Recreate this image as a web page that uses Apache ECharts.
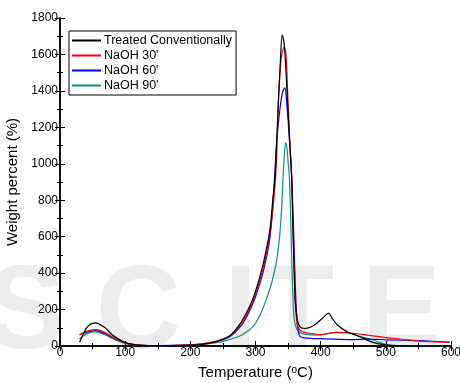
<!DOCTYPE html>
<html>
<head>
<meta charset="utf-8">
<script src="https://cdn.jsdelivr.net/npm/echarts@6/dist/echarts.min.js"></script>
<style>
  html, body { margin: 0; padding: 0; background: #fff; }
  #chart { width: 460px; height: 383px; }
</style>
</head>
<body>
<div id="chart"></div>
<script>
// series names
const seriesNames = ['Treated Conventionally', "NaOH 30'", "NaOH 60'", "NaOH 90'"];
const seriesColors = ['#000000', '#ff0000', '#0000ff', '#0a8f86'];

// Treated Conventionally
const tempBlack = [30, 35, 40, 45, 50, 55, 60, 70, 80, 90, 100, 110, 120, 140, 160, 180, 200, 220, 240, 260, 276, 290, 300, 312, 322, 327, 330, 334, 338, 341, 344, 348, 352, 355.5, 357, 359, 361, 364, 368, 375, 385, 395, 405, 412, 418, 425, 440, 460, 480, 500, 520, 560, 600];
const wBlack = [20, 60, 95, 115, 124, 127, 120, 98, 62, 38, 19, 10, 5, 2, 1, 1, 4, 10, 24, 55, 120, 210, 300, 454, 637, 820, 929, 1250, 1550, 1707, 1660, 1420, 1150, 929, 700, 450, 250, 150, 106, 96, 104, 128, 160, 180, 150, 118, 79, 51, 20, 6, 2, 1, 1];

// NaOH 30'
const temp30 = [30, 40, 50, 55, 60, 70, 80, 90, 100, 110, 120, 150, 200, 220, 240, 260, 278, 290, 300, 312, 322, 328, 332, 335, 338.6, 341, 344, 347, 350, 353, 355.5, 357.5, 359.5, 361, 364, 368, 375, 388, 399, 410, 424, 450, 475, 501, 525, 552, 575, 598];
const w30 = [60, 80, 88, 90, 87, 72, 50, 32, 18, 9, 5, 2, 7, 13, 27, 55, 120, 195, 285, 430, 610, 800, 1000, 1332, 1551, 1610, 1640, 1590, 1332, 1100, 929, 650, 400, 230, 120, 88, 75, 68, 62, 68, 75, 70, 58, 46, 37, 27, 23, 20];

// NaOH 60'
const temp60 = [30, 40, 50, 55, 60, 70, 80, 90, 100, 110, 120, 150, 200, 220, 240, 260, 278, 290, 300, 312, 322, 328, 332.5, 338.6, 342, 345, 348, 350, 353, 355.5, 358, 360, 362, 364, 368, 375, 400, 450, 470, 501, 552, 598];
const w60 = [62, 75, 83, 84, 80, 66, 48, 30, 17, 9, 5, 2, 7, 12, 25, 50, 112, 185, 270, 410, 590, 850, 1120, 1332, 1400, 1416, 1330, 1240, 1080, 929, 700, 450, 250, 120, 55, 45, 40, 35, 38, 34, 29, 22];

// NaOH 90'
const temp90 = [30, 40, 50, 55, 60, 70, 80, 90, 100, 110, 120, 150, 200, 220, 240, 260, 280, 296, 307, 317, 325, 332, 337, 340, 342, 344, 346.3, 348.5, 350, 352, 354, 356, 359, 362, 366, 375, 394, 410, 422, 440, 450, 460, 470, 481, 490, 501, 515, 530, 600];
const w90 = [40, 65, 77, 78, 74, 60, 42, 26, 14, 7, 3, 1, 5, 9, 18, 35, 62, 106, 170, 260, 350, 460, 600, 750, 900, 1040, 1116, 1080, 1010, 929, 700, 420, 160, 105, 80, 65, 60, 66, 75, 73, 66, 53, 43, 33, 20, 8, 2, 1, 1];

const allTemps = [tempBlack, temp30, temp60, temp90];
const allValues = [wBlack, w30, w60, w90];

// faint publisher watermark behind the plot
const watermarkLetters = ['S', 'C', 'I', 'T', 'E'];
const watermarkLeft = [-14, 96, 224, 262, 362];

const chart = echarts.init(document.getElementById('chart'), null, { renderer: 'canvas' });

const axisLine = { show: true, lineStyle: { color: '#000', width: 1.5 } };
const tickIn = { show: true, inside: true, length: 5, lineStyle: { color: '#000', width: 1 } };
const minorIn = { show: true, splitNumber: 2, length: 3, lineStyle: { color: '#000', width: 1 } };

const series = seriesNames.map((name, i) => ({
  name: name,
  type: 'line',
  data: allTemps[i].map((t, j) => [t, allValues[i][j]]),
  smooth: 0.3,
  showSymbol: false,
  symbol: 'none',
  lineStyle: { color: seriesColors[i], width: 1.2 },
  itemStyle: { color: seriesColors[i] },
  z: 10 - i
}));

const option = {
  animation: false,
  backgroundColor: '#fff',
  textStyle: { fontFamily: 'Liberation Sans, Arial, sans-serif' },
  graphic: watermarkLetters.map((ch, i) => ({
    type: 'text',
    left: watermarkLeft[i],
    top: 256,
    z: -10,
    silent: true,
    style: {
      text: ch,
      font: 'bold 118px Liberation Sans, Arial, sans-serif',
      fill: '#ececec'
    }
  })),
  grid: { left: 60, right: 9, top: 18, bottom: 37, outerBoundsMode: 'none', containLabel: false },
  legend: {
    orient: 'vertical',
    left: 69,
    top: 31,
    padding: [3, 4, 3, 3],
    borderColor: '#000',
    borderWidth: 1,
    itemWidth: 29,
    itemHeight: 2,
    itemGap: 2,
    icon: 'rect',
    textStyle: { fontSize: 12.5, color: '#000', padding: [0, 0, 0, -2] },
    data: seriesNames
  },
  xAxis: [{
    type: 'value',
    min: 0,
    max: 600,
    interval: 100,
    axisLine: axisLine,
    axisTick: tickIn,
    minorTick: minorIn,
    splitLine: { show: false },
    axisLabel: { color: '#000', fontSize: 12, margin: 1, formatter: v => String(v) },
    name: 'Temperature (' + '{sup|o}' + 'C)',
    nameLocation: 'middle',
    nameGap: 19,
    nameTextStyle: {
      color: '#000',
      fontSize: 15,
      rich: { sup: { fontSize: 10, verticalAlign: 'top', padding: [0, 0, 4, 0], color: '#000' } }
    }
  }, {
    type: 'value',
    position: 'top',
    min: 0,
    max: 600,
    interval: 100,
    axisLine: axisLine,
    axisTick: tickIn,
    minorTick: minorIn,
    splitLine: { show: false },
    axisLabel: { show: false }
  }],
  yAxis: [{
    type: 'value',
    min: 0,
    max: 1800,
    interval: 200,
    axisLine: axisLine,
    axisTick: tickIn,
    minorTick: minorIn,
    splitLine: { show: false },
    axisLabel: { color: '#000', fontSize: 12, margin: 2, formatter: v => String(v) },
    name: 'Weight percent (%)',
    nameLocation: 'middle',
    nameGap: 34,
    nameTextStyle: { color: '#000', fontSize: 15 }
  }, {
    type: 'value',
    position: 'right',
    min: 0,
    max: 1800,
    interval: 200,
    axisLine: axisLine,
    axisTick: tickIn,
    minorTick: minorIn,
    splitLine: { show: false },
    axisLabel: { show: false }
  }],
  series: series
};

chart.setOption(option);
</script>
</body>
</html>
